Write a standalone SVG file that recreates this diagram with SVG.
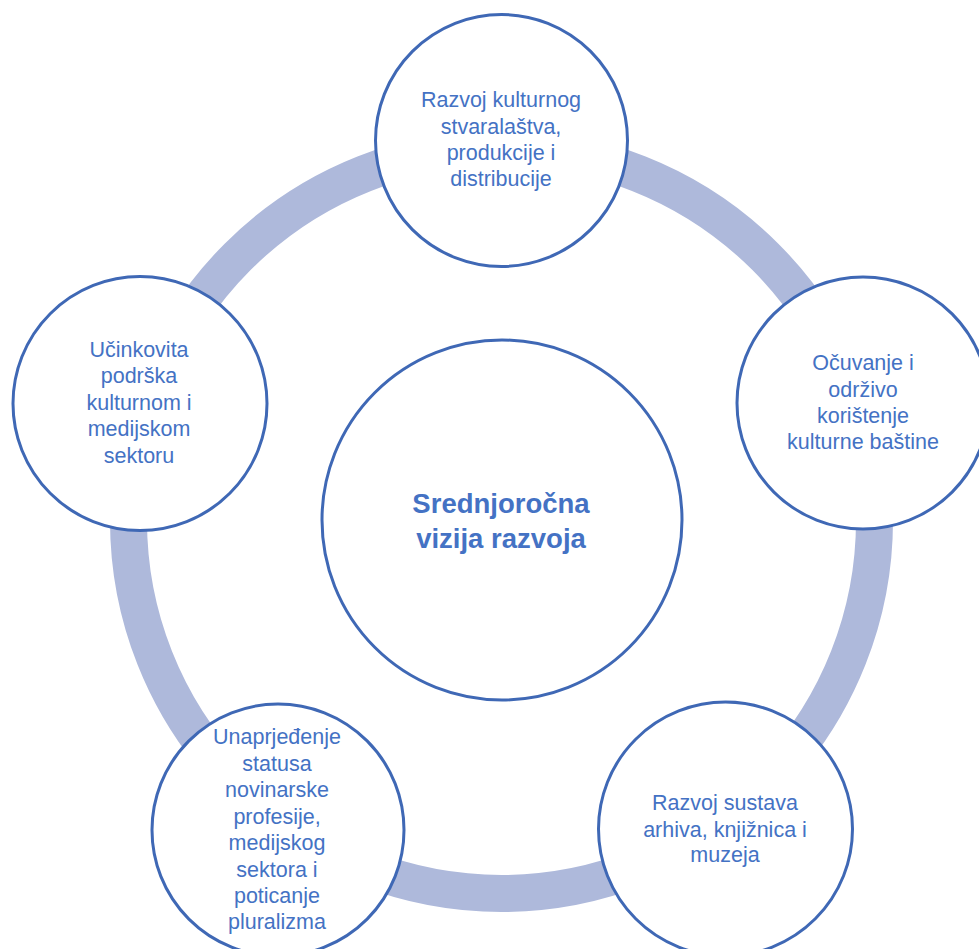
<svg xmlns="http://www.w3.org/2000/svg" width="979" height="949" viewBox="0 0 979 949">
<style>
.node{fill:#FFFFFF;stroke:#3F68B5;stroke-width:3}
.t{font-family:"Liberation Sans",Arial,sans-serif;font-size:21.5px;fill:#4472C4;text-anchor:middle}
.tb{font-family:"Liberation Sans",Arial,sans-serif;font-size:27.5px;font-weight:bold;fill:#4472C4;text-anchor:middle}
</style>
<rect width="979" height="949" fill="#FFFFFF"/>
<g id="connectors">
<circle cx="501.5" cy="520.5" r="373" fill="none" stroke="#AEB9DB" stroke-width="37"/>
</g>
<g id="center">
<circle class="node" cx="502" cy="520" r="180"/>
<text class="tb" x="501" y="513">Srednjoročna</text>
<text class="tb" x="501" y="548">vizija razvoja</text>
</g>
<g id="top">
<circle class="node" cx="501.5" cy="140.5" r="126"/>
<text class="t" x="501" y="107">Razvoj kulturnog</text>
<text class="t" x="501" y="134">stvaralaštva,</text>
<text class="t" x="501" y="160">produkcije i</text>
<text class="t" x="501" y="186">distribucije</text>
</g>
<g id="right">
<circle class="node" cx="863" cy="403" r="126"/>
<text class="t" x="863" y="370">Očuvanje i</text>
<text class="t" x="863" y="396.5">održivo</text>
<text class="t" x="863" y="423">korištenje</text>
<text class="t" x="863" y="449">kulturne baštine</text>
</g>
<g id="bottom-right">
<circle class="node" cx="725.5" cy="829" r="127"/>
<text class="t" x="725" y="810">Razvoj sustava</text>
<text class="t" x="725" y="836.5">arhiva, knjižnica i</text>
<text class="t" x="725" y="862">muzeja</text>
</g>
<g id="bottom-left">
<circle class="node" cx="278" cy="830" r="126"/>
<text class="t" x="277" y="744">Unaprjeđenje</text>
<text class="t" x="277" y="770.5">statusa</text>
<text class="t" x="277" y="797">novinarske</text>
<text class="t" x="277" y="823.5">profesije,</text>
<text class="t" x="277" y="850">medijskog</text>
<text class="t" x="277" y="876.5">sektora i</text>
<text class="t" x="277" y="903">poticanje</text>
<text class="t" x="277" y="929">pluralizma</text>
</g>
<g id="left">
<circle class="node" cx="140" cy="403.5" r="127"/>
<text class="t" x="139" y="357">Učinkovita</text>
<text class="t" x="139" y="383">podrška</text>
<text class="t" x="139" y="409.5">kulturnom i</text>
<text class="t" x="139" y="436">medijskom</text>
<text class="t" x="139" y="462.5">sektoru</text>
</g>
</svg>
